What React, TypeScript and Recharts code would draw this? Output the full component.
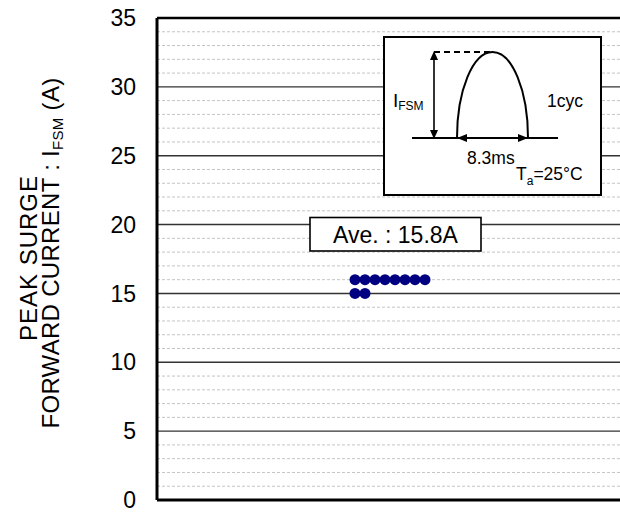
import { ScatterChart, Scatter, XAxis, YAxis, ReferenceLine } from 'recharts';

// sample column (position in the row) and measured I_FSM for each device
const columnIndex = [0, 1, 2, 3, 4, 5, 6, 7, 0, 1];
const surgeCurrent = [16, 16, 16, 16, 16, 16, 16, 16, 15, 15];

const yTicks = [0, 5, 10, 15, 20, 25, 30, 35];
const majorLines = [5, 10, 15, 20, 25, 30];
const minorLines = [1, 2, 3, 4, 6, 7, 8, 9, 11, 12, 13, 14, 16, 17, 18, 19, 21, 22, 23, 24, 26, 27, 28, 29, 31, 32, 33, 34];

const points = columnIndex.map((x, i) => ({ x, y: surgeCurrent[i] }));
const average = surgeCurrent.reduce((a, b) => a + b, 0) / surgeCurrent.length;

const font = '"Liberation Sans", Arial, sans-serif';

const Dot = (props: any) => <circle cx={props.cx} cy={props.cy} r={5.5} fill="#000080" />;

const Overlay = () => (
  <svg width={620} height={512} style={{ position: 'absolute', left: 0, top: 0, pointerEvents: 'none' }} fontFamily={font}>
    {/* axis title */}
    <text x={37} y={258} transform="rotate(-90, 37, 258)" textAnchor="middle" fontSize={24} letterSpacing={1}>
      PEAK SURGE
    </text>
    <text x={58.5} y={253} transform="rotate(-90, 58.5, 253)" textAnchor="middle" fontSize={24} letterSpacing={0.3}>
      FORWARD CURRENT : I<tspan fontSize={15} dy={4}>FSM</tspan>
      <tspan dy={-4}> (A)</tspan>
    </text>

    {/* average box */}
    <rect x={310} y={217.5} width={171} height={33.5} fill="#fff" stroke="#000" strokeWidth={1.6} />
    <text x={395.5} y={242.5} textAnchor="middle" fontSize={23}>
      {`Ave. : ${average.toFixed(1)}A`}
    </text>

    {/* waveform inset */}
    <rect x={384} y={37} width={217} height={158} fill="#fff" stroke="#000" strokeWidth={2} />
    <line x1={412} y1={138} x2={558} y2={138} stroke="#000" strokeWidth={2} />
    <path d="M 457 138 A 35.5 86 0 0 1 528 138" fill="none" stroke="#000" strokeWidth={2} />
    <line x1={434} y1={52} x2={492} y2={52} stroke="#000" strokeWidth={2} strokeDasharray="6 4" />
    <line x1={434} y1={58} x2={434} y2={132} stroke="#000" strokeWidth={1.6} />
    <polygon points="434,51 430,60 438,60" fill="#000" />
    <polygon points="434,139 430,130 438,130" fill="#000" />
    <line x1={464} y1={138} x2={521} y2={138} stroke="#000" strokeWidth={1.6} />
    <polygon points="457,138 467,134 467,142" fill="#000" />
    <polygon points="528,138 518,134 518,142" fill="#000" />
    <text x={393} y={107} fontSize={19}>
      I<tspan fontSize={12} dy={3}>FSM</tspan>
    </text>
    <text x={547} y={107} fontSize={17.5}>1cyc</text>
    <text x={467} y={164} fontSize={17.5}>8.3ms</text>
    <text x={516} y={180} fontSize={17.5}>
      T<tspan fontSize={12} dy={5}>a</tspan>
      <tspan dy={-5}>=25°C</tspan>
    </text>
  </svg>
);

const App = () => {
  return (
    <div style={{ position: 'absolute', left: 0, top: 0, width: 620, height: 512, background: '#fff' }}>
      <ScatterChart width={620} height={512} margin={{ top: 18, right: 0, bottom: 12, left: 0 }}>
        <XAxis type="number" dataKey="x" domain={[-19.8, 26.5]} hide allowDataOverflow />
        <YAxis
          type="number"
          dataKey="y"
          domain={[0, 35]}
          ticks={yTicks}
          interval={0}
          width={157}
          tickLine={false}
          tickMargin={15}
          axisLine={{ stroke: '#000', strokeWidth: 3 }}
          tick={{ fill: '#000', fontSize: 23, fontFamily: font }}
        />
        {minorLines.map((v) => (
          <ReferenceLine key={'m' + v} y={v} stroke="#c4c4c4" strokeDasharray="3 2" strokeWidth={1} />
        ))}
        {majorLines.map((v) => (
          <ReferenceLine key={'M' + v} y={v} stroke="#333" strokeWidth={1.4} />
        ))}
        <ReferenceLine y={35} stroke="#000" strokeWidth={2.5} />
        <ReferenceLine y={0} stroke="#000" strokeWidth={3} />
        <Scatter data={points} shape={Dot} isAnimationActive={false} />
      </ScatterChart>
      <Overlay />
    </div>
  );
};

export default App;
